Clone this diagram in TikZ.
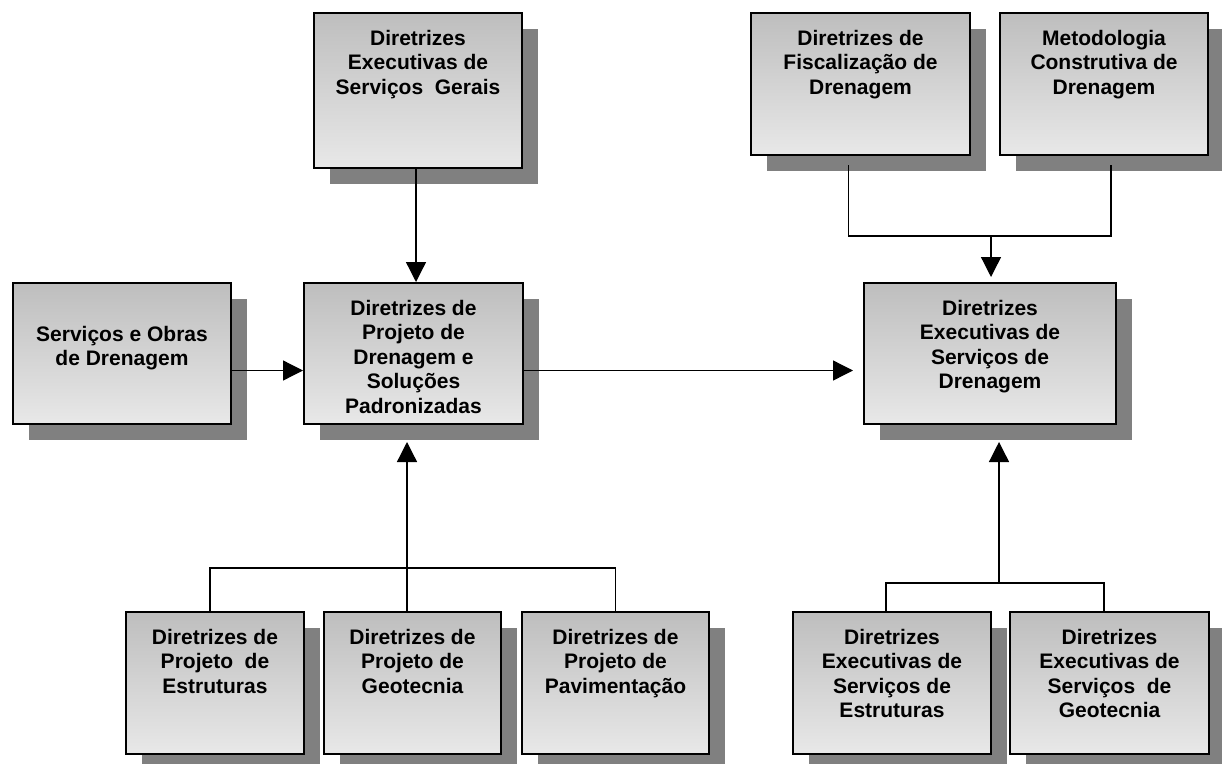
\documentclass[tikz,border=0pt]{standalone}
\usepackage{fontspec}
\setmainfont{Liberation Sans}
\usepackage{tikz}
\usetikzlibrary{arrows.meta,shadows}
\definecolor{cinzaTopo}{RGB}{190,190,190}
\definecolor{cinzaBase}{RGB}{232,232,232}
\definecolor{sombra}{RGB}{128,128,128}
\tikzset{
  caixa/.style={draw=black,line width=2pt,inner sep=0pt,anchor=north west,
    top color=cinzaTopo,bottom color=cinzaBase,
    drop shadow={shadow xshift=16pt,shadow yshift=-16pt,fill=sombra,opacity=1},
    font=\fontsize{21}{24.5}\selectfont\bfseries},
  linha/.style={line width=1.3pt},
  seta/.style={linha,-{Triangle[length=20pt,width=20pt]}}
}

\begin{document}
\begin{tikzpicture}[x=1pt,y=1pt]
\useasboundingbox (0,0) rectangle (1222,-763);
% caixas: nome/x/y/largura/altura/margem/texto
\foreach \nome/\px/\py/\lw/\lh/\topo/\texto in {
  ger/313/12/208/155/17/{Diretrizes\\Executivas de\\Serviços~ Gerais},
  obr/12/282/218/141/43/{Serviços e Obras\\de Drenagem},
  prj/303/282/219/141/17/{Diretrizes de\\Projeto de\\Drenagem e\\Soluções\\Padronizadas},
  exd/863/282/252/141/17/{Diretrizes\\Executivas de\\Serviços de\\Drenagem},
  fis/750/12/219/142/17/{Diretrizes de\\Fiscalização de\\Drenagem},
  met/999/12/208/142/17/{Metodologia\\Construtiva de\\Drenagem},
  est/125/611/178/142/17/{Diretrizes de\\Projeto~ de\\Estruturas},
  geo/323/611/177/142/17/{Diretrizes de\\Projeto de\\Geotecnia},
  pav/521/611/187/142/17/{Diretrizes de\\Projeto de\\Pavimentação},
  exe/792/611/198/142/17/{Diretrizes\\Executivas de\\Serviços de\\Estruturas},
  exg/1009/611/199/142/17/{Diretrizes\\Executivas de\\Serviços~ de\\Geotecnia}}{
\node[caixa] (\nome) at (\px,-\py) {\parbox[t][\lh pt][t]{\lw pt}{\centering\vspace*{\topo pt}\texto}};
}
% pontos de juncao
\coordinate (jr) at (991,-236);
\coordinate (jb) at (407,-568);
\coordinate (jd) at (999,-583);
% ligacoes
\draw[seta] ([xshift=-2pt]ger.south) -- ([xshift=-2pt]ger.south |- prj.north);
\draw[seta] ([yshift=-17pt]obr.east) -- ([yshift=-17pt]prj.west);
\draw[seta,shorten >=10pt] ([yshift=-17pt]prj.east) -- ([yshift=-17pt]exd.west);
\draw[linha] ([xshift=-12pt,yshift=-9pt]fis.south) |- (jr) -| ([xshift=7pt,yshift=-9pt]met.south);
\draw[seta,shorten >=5pt] (jr) -- (jr |- exd.north);
\draw[linha] ([xshift=-5pt]est.north) |- (jb) -| (pav.north);
\draw[seta,shorten >=17pt] (jb |- geo.north) -- (jb |- prj.south);
\draw[linha] ([xshift=-6pt]exe.north) |- (jd) -| ([xshift=-5.5pt]exg.north);
\draw[seta,shorten >=17pt] (jd) -- (jd |- exd.south);
\end{tikzpicture}
\end{document}
